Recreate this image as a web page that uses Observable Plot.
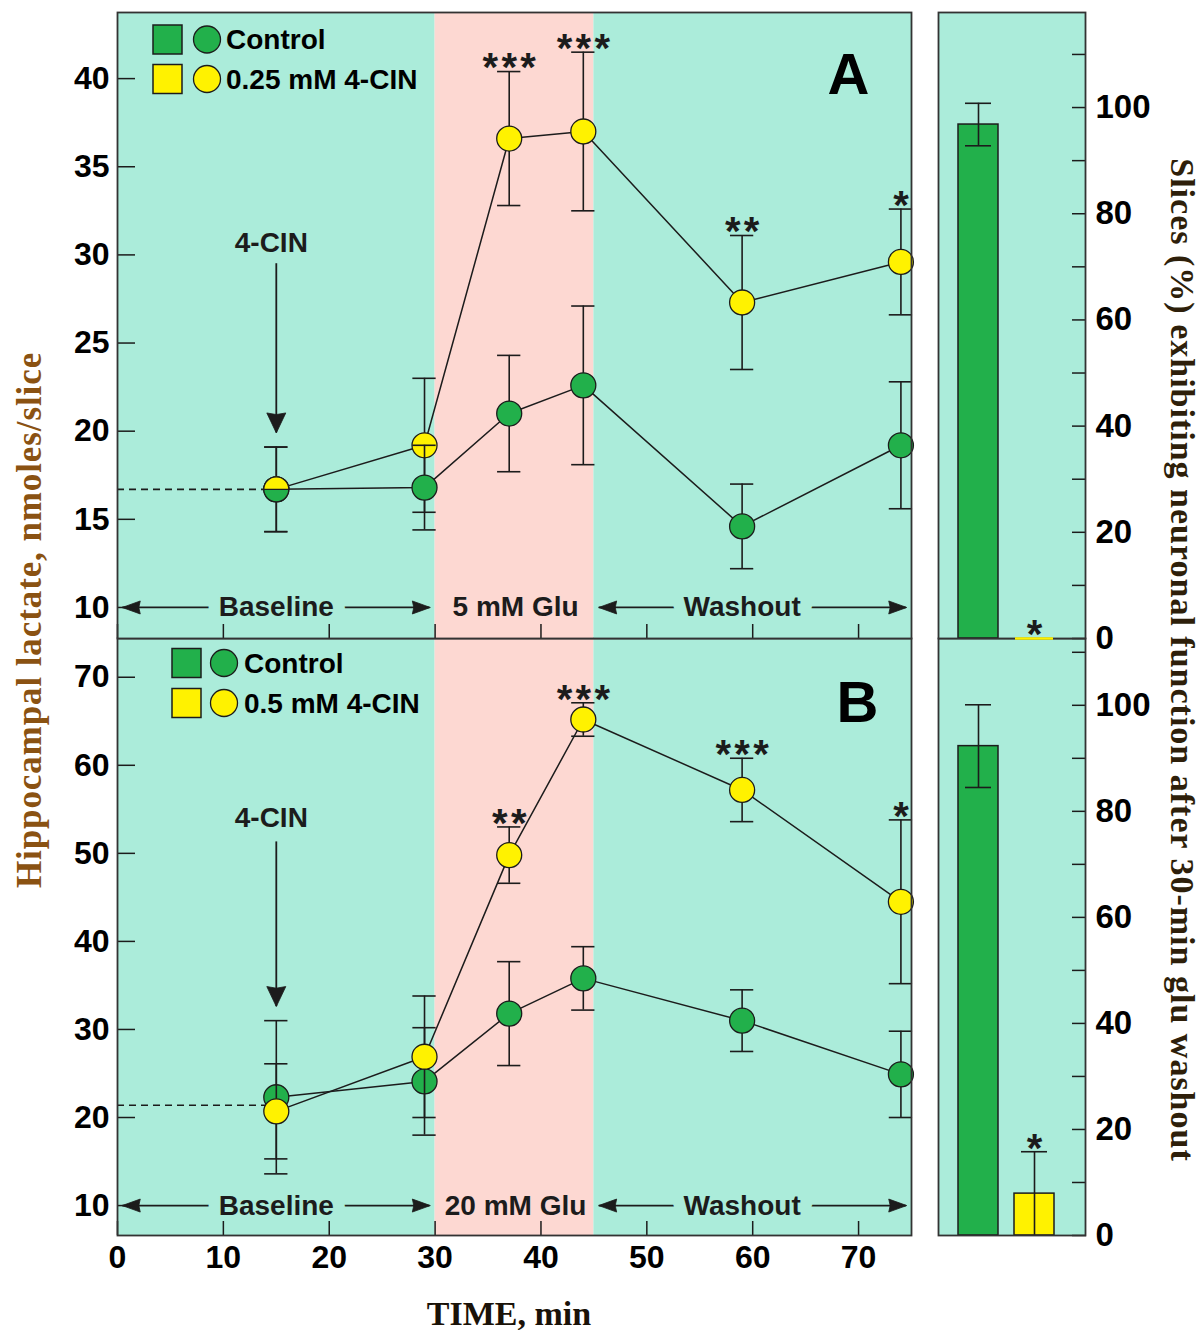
<!DOCTYPE html>
<html><head><meta charset="utf-8">
<script src="https://cdn.jsdelivr.net/npm/d3@7"></script>
<script src="https://cdn.jsdelivr.net/npm/@observablehq/plot@0.6"></script>
<style>
html,body{margin:0;padding:0;background:#fff;}
#root{position:relative;width:1201px;height:1330px;overflow:hidden;}
.abs{position:absolute;}
.abs svg{max-width:none !important;}
</style></head><body><div id="root"></div>
<script>
// ---------- data ----------
const times = [15, 29, 37, 44, 59, 74];
const controlA = [16.7, 16.8, 21.0, 22.6, 14.6, 19.2];
const controlA_sem = [2.4, 2.4, 3.3, 4.5, 2.4, 3.6];
const cinA = [16.7, 19.2, 36.6, 37.0, 27.3, 29.6];
const cinA_sem = [2.4, 3.8, 3.8, 4.5, 3.8, 3.0];
const cinA_sig = ["", "", "***", "***", "**", "*"];
const controlB = [22.3, 24.1, 31.8, 35.8, 31.0, 24.9];
const controlB_sem = [8.7, 6.1, 5.9, 3.6, 3.5, 4.9];
const cinB = [20.7, 26.9, 49.8, 65.2, 57.2, 44.5];
const cinB_sem = [5.4, 6.9, 3.2, 1.9, 3.6, 9.3];
const cinB_sig = ["", "", "**", "***", "***", "*"];
const legendA = ["Control", "0.25 mM 4-CIN"];
const legendB = ["Control", "0.5 mM 4-CIN"];
const phases = ["baseline", "glu", "washout"];
const phaseStart = [0, 30, 45];
const phaseEnd = [30, 45, 75];
const phaseLabelA = ["Baseline", "5 mM Glu", "Washout"];
const phaseLabelB = ["Baseline", "20 mM Glu", "Washout"];
const phaseLabelX = [15, 37.6, 59];
const phaseArrows = [true, false, true];
const baselineA = 16.7, baselineB = 21.4;
const cinMarkA = {label: "4-CIN", t: 15, labelY: 30.7, from: 29.5, tip: 19.9};
const cinMarkB = {label: "4-CIN", t: 15, labelY: 54.0, from: 51.3, tip: 32.6};
const barGroups = ["Control", "4-CIN"];
const barsA = [96.8, 0], barsA_sem = [4.0, 0], barsA_sig = ["", "*"];
const barsB = [92.3, 7.9], barsB_sem = [7.8, 7.9], barsB_sig = ["", "*"];
const xTicks = [0, 10, 20, 30, 40, 50, 60, 70];
const yTicksA = [10, 15, 20, 25, 30, 35, 40];
const yTicksB = [10, 20, 30, 40, 50, 60, 70];
const barTicks = [0, 10, 20, 30, 40, 50, 60, 70, 80, 90, 100, 110];
const barLabels = [0, 20, 40, 60, 80, 100];

// ---------- style ----------
const GREEN = "#22b04b", YELLOW = "#fff200", INK = "#1c1c1c";
const phaseColor = {baseline: "#abecda", glu: "#fdd8d2", washout: "#abecda"};
const SANS = "'Liberation Sans', Arial, sans-serif";
const SERIF = "'Liberation Serif', 'Times New Roman', serif";
const HAIR = "\u200A";

const arrowHead = (L, W) => ({draw(ctx) {
  ctx.moveTo(0, 0); ctx.lineTo(-L, -W / 2); ctx.lineTo(-L * 0.92, 0); ctx.lineTo(-L, W / 2); ctx.closePath();
}});
const halfTop = {draw(ctx, size) {
  const r = Math.sqrt(size / Math.PI);
  ctx.moveTo(-r, 0); ctx.arc(0, 0, r, Math.PI, 2 * Math.PI); ctx.closePath();
}};

function linePanel(o) {
  const ctrl = times.map((t, i) => ({t, v: o.ctrl[i], e: o.ctrlSem[i]}));
  const cin = times.map((t, i) => ({t, v: o.cin[i], e: o.cinSem[i], s: o.sig[i], same: o.cin[i] === o.ctrl[i]}));
  const ph = phases.map((p, i) => ({p, x1: phaseStart[i], x2: phaseEnd[i], label: o.labels[i], lx: phaseLabelX[i], arrows: phaseArrows[i]}));
  const arr = ph.filter(d => d.arrows);
  const rowY = o.rowY;
  const err = rows => [
    Plot.ruleX(rows, {x: "t", y1: d => d.v - d.e, y2: d => d.v + d.e, stroke: INK, strokeWidth: 1.6}),
    Plot.ruleY(rows, {y: d => d.v - d.e, x1: d => d.t - 1.1, x2: d => d.t + 1.1, stroke: INK, strokeWidth: 1.6}),
    Plot.ruleY(rows, {y: d => d.v + d.e, x1: d => d.t - 1.1, x2: d => d.t + 1.1, stroke: INK, strokeWidth: 1.6})
  ];
  const dots = (rows, fill, symbol) => Plot.dot(rows, {x: "t", y: "v", r: 12.5, fill, stroke: INK, strokeWidth: 1.3, symbol: symbol || "circle"});
  const layers = o.cinFirst
    ? [err(cin), dots(cin, YELLOW), err(ctrl), dots(ctrl, GREEN), dots(cin.filter(d => d.same), YELLOW, halfTop)]
    : [err(ctrl), dots(ctrl, GREEN), err(cin), dots(cin, YELLOW)];
  const marks = [
    Plot.rect(ph, {x1: "x1", x2: "x2", fill: d => phaseColor[d.p]}),
    Plot.ruleY([o.baseline], {y: d => d, x1: 0, x2: times[0], stroke: INK, strokeWidth: 1.6, strokeDasharray: "7,5"}),
    Plot.line(cin, {x: "t", y: "v", stroke: INK, strokeWidth: 1.5}),
    Plot.line(ctrl, {x: "t", y: "v", stroke: INK, strokeWidth: 1.5}),
    ...layers.flat(),
    Plot.text(cin.filter(d => d.s), {x: "t", y: d => d.v + d.e, text: d => d.s.split("").join(HAIR), dy: -3, lineAnchor: "middle", fontSize: 40, fontWeight: "bold", fill: INK}),
    Plot.text([o.cinMark], {x: "t", y: "labelY", text: "label", dx: -5, fontSize: 28, fontWeight: "bold", fill: INK}),
    Plot.ruleX([o.cinMark], {x: "t", y1: "from", y2: "tip", stroke: INK, strokeWidth: 1.8}),
    Plot.dot([o.cinMark], {x: "t", y: "tip", symbol: arrowHead(20, 19), rotate: 90, fill: INK, stroke: INK, strokeWidth: 0.8}),
    Plot.ruleY(arr, {y: rowY, x1: d => d.x1 + 0.5, x2: d => d.x2 - 0.5, stroke: INK, strokeWidth: 1.7}),
    Plot.dot(arr, {x: d => d.x1 + 0.45, y: rowY, symbol: arrowHead(18, 13), rotate: 180, fill: INK, stroke: INK, strokeWidth: 0.8}),
    Plot.dot(arr, {x: d => d.x2 - 0.45, y: rowY, symbol: arrowHead(18, 13), rotate: 0, fill: INK, stroke: INK, strokeWidth: 0.8}),
    Plot.text(arr, {x: "lx", y: rowY, text: "label", fontSize: 28, fontWeight: "bold", fill: INK, stroke: d => phaseColor[d.p], strokeWidth: 24, lineAnchor: "middle"}),
    Plot.text(ph.filter(d => !d.arrows), {x: "lx", y: rowY, text: "label", fontSize: 28, fontWeight: "bold", fill: INK, lineAnchor: "middle"}),
    Plot.axisY({ticks: o.yTicks, tickSize: 18, dx: 18, tickFormat: () => "", label: null, stroke: INK, strokeWidth: 1.5}),
    Plot.axisY({ticks: o.yTicks, tickSize: 0, tickPadding: 8, label: null, fontSize: 32, fontWeight: "bold", fill: "#000"}),
    Plot.axisX({ticks: xTicks, tickSize: 14, dy: -14, tickFormat: () => "", label: null, stroke: INK, strokeWidth: 1.5}),
    ...(o.xLabels ? [Plot.axisX({ticks: xTicks, tickSize: 0, tickPadding: 10, label: null, fontSize: 32, fontWeight: "bold", fill: "#000"})] : []),
    Plot.text([o.letter], {frameAnchor: "top-right", dx: o.letterDx, dy: o.letterDy, text: d => d, fontSize: 58, fontWeight: "bold", fill: "#000", textAnchor: "middle", lineAnchor: "middle"}),
    Plot.frame({stroke: "#333", strokeWidth: 1.8})
  ];
  return Plot.plot({
    width: 930, height: o.height,
    marginLeft: 117, marginRight: 19, marginTop: o.marginTop, marginBottom: o.marginBottom,
    x: {domain: [0, 75]},
    y: {domain: o.yDomain},
    style: {fontFamily: SANS, fontWeight: "bold", background: "transparent", overflow: "visible", color: "#000"},
    marks
  });
}

function barPanel(o) {
  const rows = barGroups.map((g, i) => ({g, v: o.vals[i], e: o.sems[i], s: o.sigs[i]}));
  const withErr = rows.filter(d => d.e > 0);
  return Plot.plot({
    width: 281, height: o.height,
    marginLeft: 18, marginRight: 116, marginTop: o.marginTop, marginBottom: o.marginBottom,
    x: {type: "band", domain: barGroups, paddingInner: 0.286, paddingOuter: 0.455, align: 0.39, axis: null},
    y: {domain: [0, o.yMax]},
    style: {fontFamily: SANS, fontWeight: "bold", background: "transparent", overflow: "visible", color: "#000"},
    marks: [
      Plot.frame({fill: phaseColor.baseline}),
      Plot.barY(rows.filter(d => d.v > 0), {x: "g", y: "v", fill: d => d.g === barGroups[0] ? GREEN : YELLOW, stroke: INK, strokeWidth: 1.5}),
      Plot.ruleX(withErr, {x: "g", y1: d => Math.max(0, d.v - d.e), y2: d => d.v + d.e, stroke: INK, strokeWidth: 1.6}),
      Plot.tickY(withErr, {x: "g", y: d => d.v + d.e, stroke: INK, strokeWidth: 1.6, inset: 7}),
      Plot.tickY(withErr.filter(d => d.v - d.e > 0.5), {x: "g", y: d => d.v - d.e, stroke: INK, strokeWidth: 1.6, inset: 7}),
      Plot.text(rows.filter(d => d.s), {x: "g", y: d => d.v + d.e, text: "s", dy: -3, lineAnchor: "middle", fontSize: 40, fontWeight: "bold", fill: INK}),
      Plot.axisY({anchor: "right", ticks: barTicks, tickSize: 14, dx: -14, tickFormat: () => "", label: null, stroke: INK, strokeWidth: 1.5}),
      Plot.axisY({anchor: "right", ticks: barLabels, tickSize: 0, tickPadding: 10, label: null, fontSize: 33, fontWeight: "bold", fill: "#000"}),
      Plot.frame({stroke: "#333", strokeWidth: 1.8}),
      Plot.tickY(rows.filter(d => d.v === 0), {x: "g", y: "v", stroke: YELLOW, strokeWidth: 2.5, inset: 1})
    ]
  });
}

const root = document.getElementById("root");
function place(node, left, top, w, h) {
  const div = document.createElement("div");
  div.className = "abs";
  div.style.left = left + "px"; div.style.top = top + "px";
  div.style.width = w + "px"; div.style.height = h + "px";
  div.appendChild(node);
  root.appendChild(div);
}

// lower panels first so the upper panels' bottom edges stay on top
place(linePanel({
  ctrl: controlB, ctrlSem: controlB_sem, cin: cinB, cinSem: cinB_sem, sig: cinB_sig,
  yDomain: [6.6, 74.4], yTicks: yTicksB, labels: phaseLabelB, baseline: baselineB, cinMark: cinMarkB,
  rowY: 10, letter: "B", letterDx: -54, letterDy: 65, cinFirst: false, xLabels: true,
  height: 730, marginTop: 38, marginBottom: 95
}), 0, 600, 930, 730);
place(barPanel({vals: barsB, sems: barsB_sem, sigs: barsB_sig, yMax: 112.6, height: 730, marginTop: 38, marginBottom: 95}), 920, 600, 281, 730);

place(linePanel({
  ctrl: controlA, ctrlSem: controlA_sem, cin: cinA, cinSem: cinA_sem, sig: cinA_sig,
  yDomain: [8.24, 43.75], yTicks: yTicksA, labels: phaseLabelA, baseline: baselineA, cinMark: cinMarkA,
  rowY: 10, letter: "A", letterDx: -63, letterDy: 63, cinFirst: true, xLabels: false,
  height: 650, marginTop: 12, marginBottom: 12
}), 0, 0, 930, 650);
place(barPanel({vals: barsA, sems: barsA_sem, sigs: barsA_sig, yMax: 117.9, height: 650, marginTop: 12, marginBottom: 12}), 920, 0, 281, 650);

// ---------- titles & legends overlay ----------
const ns = "http://www.w3.org/2000/svg";
const ov = document.createElementNS(ns, "svg");
ov.setAttribute("width", 1201); ov.setAttribute("height", 1330);
ov.style.position = "absolute"; ov.style.left = "0"; ov.style.top = "0"; ov.style.pointerEvents = "none";
root.appendChild(ov);
function el(tag, attrs, text) {
  const e = document.createElementNS(ns, tag);
  for (const k in attrs) e.setAttribute(k, attrs[k]);
  if (text != null) e.textContent = text;
  ov.appendChild(e);
  return e;
}
el("text", {transform: "translate(29,620) rotate(-90)", "text-anchor": "middle", "dominant-baseline": "central",
  "font-family": SERIF, "font-weight": "bold", "font-size": 35, "letter-spacing": 0.9, fill: "#8a5212"}, "Hippocampal lactate, nmoles/slice");
el("text", {transform: "translate(1182,660) rotate(90)", "text-anchor": "middle", "dominant-baseline": "central",
  "font-family": SERIF, "font-weight": "bold", "font-size": 34, "letter-spacing": 1, fill: "#2e1f0a"}, "Slices (%) exhibiting neuronal function after 30-min glu washout");
el("text", {x: 509, y: 1313, "text-anchor": "middle", "dominant-baseline": "central",
  "font-family": SERIF, "font-weight": "bold", "font-size": 34, fill: "#1a1208"}, "TIME, min");

function legend(names, sx, cx, tx, y0, gap) {
  [GREEN, YELLOW].forEach((c, i) => {
    const y = y0 + i * gap;
    el("rect", {x: sx, y: y - 14.5, width: 29, height: 29, fill: c, stroke: INK, "stroke-width": 1.5});
    el("circle", {cx, cy: y, r: 13.5, fill: c, stroke: INK, "stroke-width": 1.3});
    el("text", {x: tx, y, "dominant-baseline": "central", "font-family": SANS, "font-weight": "bold", "font-size": 28, fill: "#000"}, names[i]);
  });
}
legend(legendA, 153, 207, 226, 39.5, 39.5);
legend(legendB, 172, 224, 244, 663, 40);
</script></body></html>
